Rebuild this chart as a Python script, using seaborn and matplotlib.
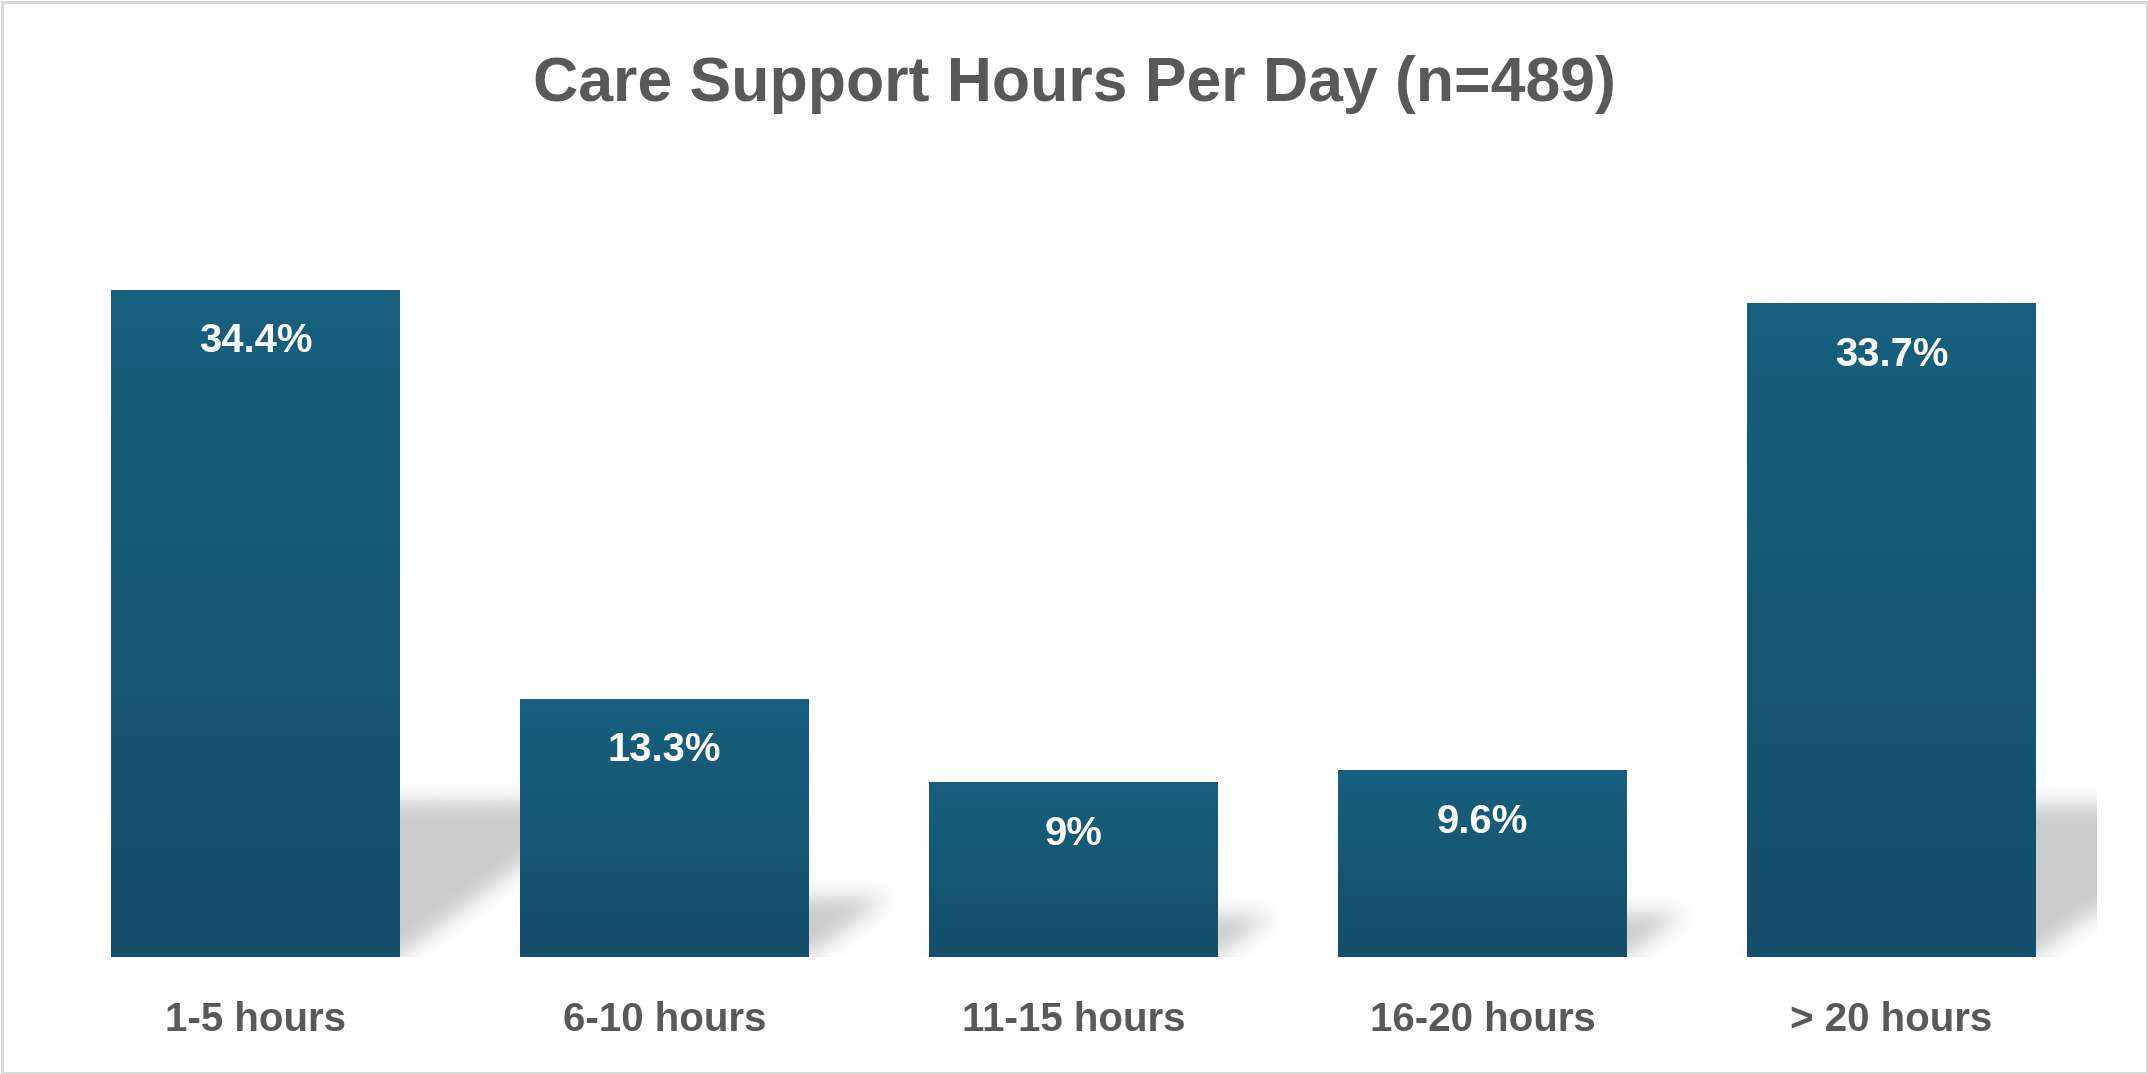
import numpy as np
import pandas as pd
import matplotlib
matplotlib.use("Agg")
import matplotlib.pyplot as plt
import seaborn as sns
from matplotlib.patches import Rectangle
from matplotlib.path import Path
from matplotlib.colors import LinearSegmentedColormap

# ---- data ----
categories = ["1-5 hours", "6-10 hours", "11-15 hours", "16-20 hours", "> 20 hours"]
values = [34.4, 13.3, 9.0, 9.6, 33.7]
value_labels = ["34.4%", "13.3%", "9%", "9.6%", "33.7%"]
title = "Care Support Hours Per Day (n=489)"

sns.set_theme(style="white")
plt.rcParams["font.family"] = ["Liberation Sans", "DejaVu Sans"]

W, H, DPI = 2148, 1074, 100
fig = plt.figure(figsize=(W / DPI, H / DPI), dpi=DPI)
fig.patch.set_facecolor("white")

ax_rect = [0.0237, 0.1089, 0.9521, 0.7217]
ax = fig.add_axes(ax_rect)
ax.set_facecolor("none")

df = pd.DataFrame({"category": categories, "value": values})
sns.barplot(data=df, x="category", y="value", color="#17607F", saturation=1,
            width=0.706, ax=ax, zorder=3, linewidth=0, edgecolor="none")

xlim = (-0.5, len(categories) - 0.5)
ylim = (0, 40)

bars = list(ax.patches)

# ---- perspective shadow ----
ax_w_px = ax_rect[2] * W
ax_h_px = ax_rect[3] * H
px_per_x = ax_w_px / (xlim[1] - xlim[0])
px_per_y = ax_h_px / (ylim[1] - ylim[0])
nx, ny = int(ax_w_px / 2), int(ax_h_px / 2)
xs = np.linspace(xlim[0], xlim[1], nx)
ys = np.linspace(ylim[0], ylim[1], ny)
X, Y = np.meshgrid(xs, ys)
pts = np.column_stack([X.ravel(), Y.ravel()])
mask = np.zeros(X.size)
k, s = 0.232, 1.33
for p in bars:
    x0 = p.get_x(); x1 = x0 + p.get_width(); h = p.get_height()
    hs = k * h
    dx = s * hs * px_per_y / px_per_x
    path = Path([(x0, 0), (x1, 0), (x1 + dx, hs), (x0 + dx, hs), (x0, 0)])
    mask = np.maximum(mask, path.contains_points(pts).astype(float))
mask = mask.reshape(ny, nx)

def blur(a, sigma):
    r = int(3 * sigma)
    t = np.arange(-r, r + 1)
    g = np.exp(-t ** 2 / (2 * sigma ** 2)); g /= g.sum()
    a = np.pad(a, r, mode="edge")
    a = np.apply_along_axis(lambda v: np.convolve(v, g, mode="same"), 0, a)
    a = np.apply_along_axis(lambda v: np.convolve(v, g, mode="same"), 1, a)
    return a[r:-r, r:-r]

alpha = blur(mask, 5.0)
rgba = np.zeros((ny, nx, 4))
rgba[..., :3] = 0.80
rgba[..., 3] = np.clip(alpha, 0, 1)
ax.imshow(rgba, extent=(xlim[0], xlim[1], ylim[0], ylim[1]), origin="lower",
          aspect="auto", zorder=1, interpolation="bilinear")

# ---- gradient fill of bars ----
cmap = LinearSegmentedColormap.from_list("barg", ["#134E6A", "#17607F"])
grad = np.linspace(0, 1, 256).reshape(-1, 1)
for p in bars:
    x0 = p.get_x(); x1 = x0 + p.get_width(); h = p.get_height()
    ax.imshow(grad, cmap=cmap, extent=(x0, x1, 0, h), origin="lower",
              aspect="auto", zorder=4, interpolation="bilinear")

# ---- value labels ----
for p, lab in zip(bars, value_labels):
    ax.annotate(lab, xy=(p.get_x() + p.get_width() / 2, p.get_height()),
                xytext=(0, -51 * 72 / DPI), textcoords="offset points",
                ha="center", va="center", color="white", fontsize=28.8,
                fontweight="bold", zorder=6)

ax.set_xlim(*xlim)
ax.set_ylim(*ylim)
ax.set_yticks([])
ax.set_xlabel("")
ax.set_ylabel("")
for sp in ax.spines.values():
    sp.set_visible(False)
ax.tick_params(axis="x", length=0, pad=32, labelsize=29, labelcolor="#595959")
for t in ax.get_xticklabels():
    t.set_fontweight("bold")

fig.text(0.5, 1 - 85 / H, title, ha="center", va="center", fontsize=45,
         fontweight="bold", color="#595959")

# figure border
fig.patches.append(Rectangle((1.5 / W, 1.5 / H), 1 - 3 / W, 1 - 3 / H,
                             transform=fig.transFigure, fill=False,
                             edgecolor="#D9D9D9", linewidth=3 * 72 / DPI))

fig.savefig("out.png", dpi=DPI, facecolor="white")
